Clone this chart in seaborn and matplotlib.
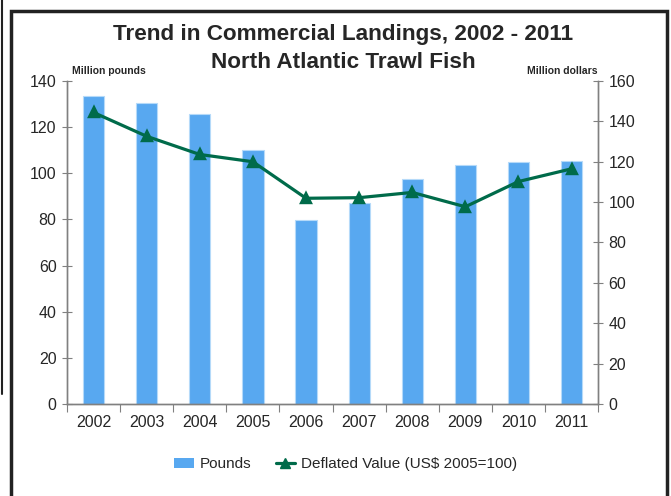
import numpy as np
import pandas as pd
import seaborn as sns
import matplotlib.pyplot as plt
from matplotlib.patches import Rectangle
from matplotlib.lines import Line2D
from matplotlib.patches import Patch

years = ["2002", "2003", "2004", "2005", "2006", "2007", "2008", "2009", "2010", "2011"]
pounds = [133.3, 130.3, 125.5, 110.0, 79.8, 87.2, 97.5, 103.4, 104.7, 105.4]
deflated_value = [144.4, 132.6, 123.6, 120.0, 101.9, 102.2, 104.8, 97.7, 110.2, 116.5]

sns.set_style("white")
plt.rcParams['font.family'] = ['Liberation Sans', 'DejaVu Sans']

bar_color = "#58a8f0"
line_color = "#006b4a"
spine_color = "#808080"

df = pd.DataFrame({"year": years, "pounds": pounds, "value": deflated_value})

fig = plt.figure(figsize=(6.71, 4.96), dpi=100)
ax = fig.add_axes([0.0999, 0.1855, 0.7915, 0.6512])

sns.barplot(data=df, x="year", y="pounds", color=bar_color, width=0.4,
            saturation=1, edgecolor="#b5daf9", linewidth=0.8, ax=ax)
ax.set_ylim(0, 140)
ax.set_yticks(range(0, 141, 20))
ax.set_xlim(-0.5, 9.5)
ax.set_xlabel("")
ax.set_ylabel("")

ax2 = ax.twinx()
sns.pointplot(data=df, x="year", y="value", color=line_color, markers="^",
              markersize=7, linewidth=2.3, ax=ax2)
ax2.set_ylim(0, 160)
ax2.set_yticks(range(0, 161, 20))
ax2.set_xlim(-0.5, 9.5)
ax2.set_ylabel("")
ax2.set_xlabel("")

for a in (ax, ax2):
    for s in a.spines.values():
        s.set_color(spine_color)
        s.set_linewidth(1)
    a.spines["top"].set_visible(False)
    a.grid(False)

ax.tick_params(axis="y", direction="inout", length=7, color=spine_color,
               labelsize=11.5, left=True, pad=4)
ax2.tick_params(axis="y", direction="inout", length=7, color=spine_color,
                labelsize=11.5, right=True, pad=4)
ax.set_xticks(np.arange(-0.5, 10, 1), minor=False)
ax.set_xticklabels([])
ax.set_xticks(range(len(years)), minor=True)
ax.set_xticklabels(years, minor=True)
ax.tick_params(axis="x", which="major", direction="out", length=6,
               color=spine_color, bottom=True)
ax.tick_params(axis="x", which="minor", length=0, labelsize=11.5, pad=8)

fig.text(0.512, 0.931, "Trend in Commercial Landings, 2002 - 2011",
         ha="center", va="center", fontsize=16.2, fontweight="bold")
fig.text(0.512, 0.873, "North Atlantic Trawl Fish",
         ha="center", va="center", fontsize=16.2, fontweight="bold")
fig.text(0.107, 0.857, "Million pounds", ha="left", va="center",
         fontsize=7.5, fontweight="bold")
fig.text(0.890, 0.857, "Million dollars", ha="right", va="center",
         fontsize=7.5, fontweight="bold")

handles = [Patch(facecolor=bar_color, edgecolor="none"),
           Line2D([], [], color=line_color, marker="^", markersize=7, linewidth=2.3)]
fig.legend(handles, ["Pounds", "Deflated Value (US$ 2005=100)"],
           loc="center", bbox_to_anchor=(0.515, 0.064), ncol=2, frameon=False,
           fontsize=11, handlelength=1.3, columnspacing=1.6, handletextpad=0.35)

# outer frame
fig.patches.append(Rectangle((11 / 671, -0.05), 656 / 671, 1.05 - 11 / 496,
                             transform=fig.transFigure, fill=False,
                             edgecolor="#222222", linewidth=2.5))
fig.lines.append(Line2D([1.5 / 671, 1.5 / 671], [1, 1 - 394 / 496],
                        transform=fig.transFigure, color="#222222", linewidth=1.5))

fig.savefig("out.png", dpi=100)
